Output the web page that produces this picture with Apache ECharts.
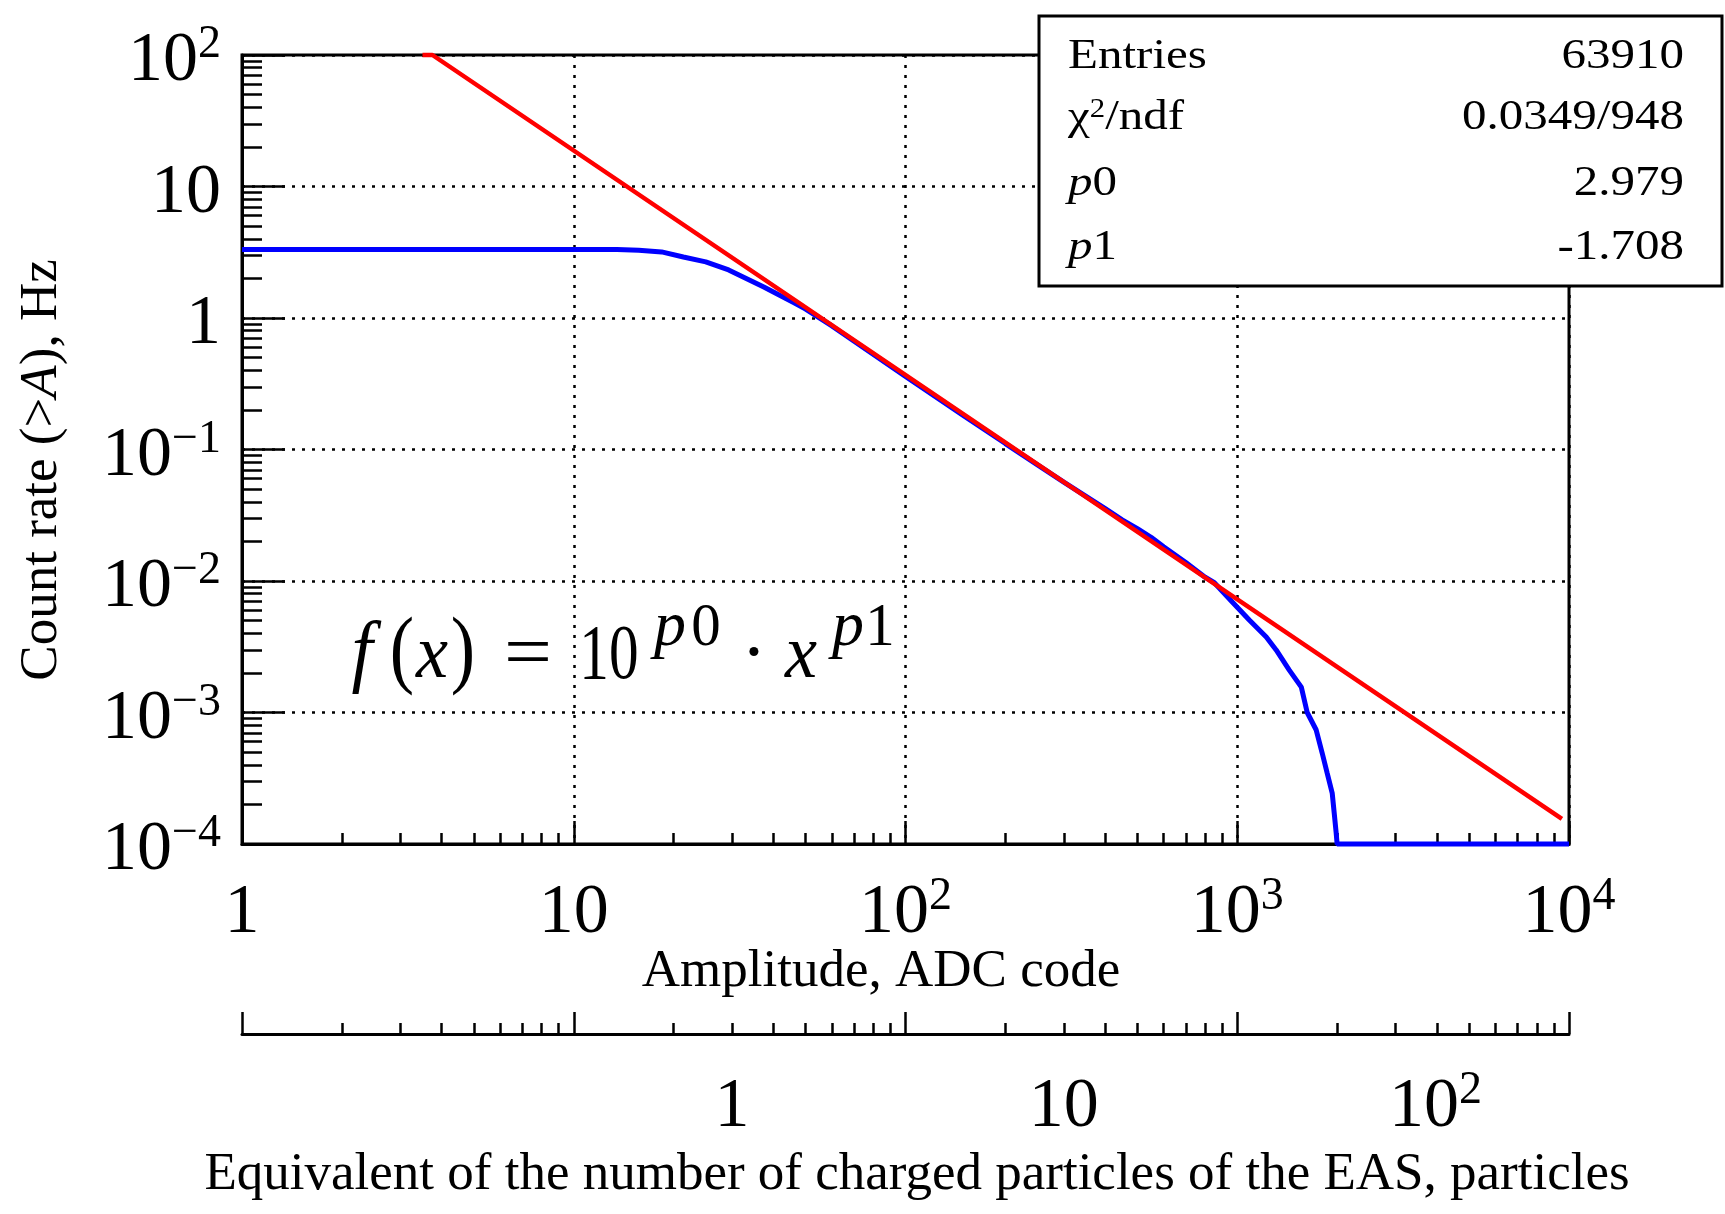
<!DOCTYPE html>
<html>
<head>
<meta charset="utf-8">
<script src="https://cdn.jsdelivr.net/npm/echarts@6/dist/echarts.min.js"></script>
<style>html,body{margin:0;padding:0;background:#fff}#c{width:1725px;height:1214px}</style>
</head>
<body>
<div id="c"></div>
<script>
// ---------- data ----------
const amplitude = [1, 13.5, 15.7, 18.4, 21.4, 25, 29.3, 37.4, 46.3, 50, 60, 70, 100, 150, 200, 250, 300, 400, 450, 500, 550, 600, 700, 800, 853, 966, 1087, 1223, 1310, 1435, 1560, 1625, 1730, 1803, 1866, 1933, 1960, 1987, 2000, 10000];
const countRate = [3.32, 3.32, 3.28, 3.18, 2.91, 2.67, 2.32, 1.72, 1.30, 1.17, 0.87, 0.665, 0.36, 0.18, 0.111, 0.0765, 0.0565, 0.0355, 0.0292, 0.025, 0.0215, 0.0182, 0.0138, 0.0107, 0.0097, 0.00692, 0.00505, 0.00375, 0.00299, 0.0021, 0.00156, 0.0010, 0.000736, 0.000492, 0.000347, 0.000244, 0.000172, 0.000121, 0.0001, 0.0001];
const fitAmplitude = [3.5, 3.75, 9520];
const fitRate = [100, 100, 1.55e-4];
const xMajorTicks = [1, 10, 100, 1000, 10000];
const yMajorTicks = [1e-4, 1e-3, 1e-2, 1e-1, 1, 10, 100];
const particleTicks = [1, 10, 100];
const adcPerParticle = 30;
const statsLabels = ['{r|Entries}', '{g|\u03c7}{s|2}{r|/ndf}', '{i|p}{r|0}', '{i|p}{r|1}'];
const statsValues = ['63910', '0.0349/948', '2.979', '-1.708'];
const xTitle = 'Amplitude, ADC code';
const x2Title = 'Equivalent of the number of charged particles of the EAS, particles';

// minor tick positions (2..9 in each decade)
function minorTicks(lo, hi) {
  const out = [];
  for (let d = lo; d < hi; d++) for (let m = 2; m <= 9; m++) out.push(+(m * Math.pow(10, d)).toPrecision(6));
  return out;
}
const xMinorTicks = minorTicks(0, 4);
const yMinorTicks = minorTicks(-4, 2);

const FONT = '"Liberation Serif","Times New Roman",Times,serif';

function powLabel(v, big) {
  const e = Math.round(Math.log10(v));
  if (e === 0) return '{b|1}';
  if (e === 1) return '{b|10}';
  const exp = e < 0 ? '\u2212' + (-e) : String(e);
  return '{' + (big ? 'bp' : 'b') + '|10}{s|' + exp + '}';
}

const richX = {
  b: {fontFamily: FONT, fontSize: 70, lineHeight: 80, color: '#000'},
  bp: {fontFamily: FONT, fontSize: 70, lineHeight: 80, color: '#000', padding: [0, 0, 0, 80]},
  s: {fontFamily: FONT, fontSize: 46, lineHeight: 33, verticalAlign: 'top', color: '#000'}
};
const richY = {
  b: {fontFamily: FONT, fontSize: 70, lineHeight: 80, color: '#000'},
  s: {fontFamily: FONT, fontSize: 46, lineHeight: 35, verticalAlign: 'top', color: '#000'}
};

const dotted = {show: true, lineStyle: {color: '#000', width: 2.5, type: [3, 7]}};
const noSplit = {show: false};
const tickStyle = {color: '#000', width: 2.5};

const chart = echarts.init(document.getElementById('c'), null, {renderer: 'canvas'});

const option = {
  animation: false,
  backgroundColor: '#fff',
  grid: [
    {left: 242, top: 55, width: 1327, height: 789, show: true, borderColor: '#000', borderWidth: 3,
     backgroundColor: 'transparent', containLabel: false, outerBoundsMode: 'none'},
    {left: 242, top: 1000, width: 1327, height: 34, show: false, containLabel: false, outerBoundsMode: 'none'}
  ],
  xAxis: [
    {type: 'log', gridIndex: 0, position: 'bottom', min: 1, max: 10000,
     axisLine: {show: true, lineStyle: {color: '#000', width: 3}},
     axisTick: {show: true, inside: true, length: 23, lineStyle: tickStyle},
     axisLabel: {show: true, margin: 30, customValues: xMajorTicks, formatter: v => powLabel(v), rich: richX,
                 showMinLabel: true, showMaxLabel: true, hideOverlap: false},
     splitLine: dotted, minorTick: {show: false}, minorSplitLine: {show: false}},
    {type: 'log', gridIndex: 0, position: 'bottom', min: 1, max: 10000,
     axisLine: {show: false},
     axisTick: {show: true, inside: true, length: 11, customValues: xMinorTicks, lineStyle: tickStyle},
     axisLabel: {show: false}, splitLine: noSplit},
    {type: 'log', gridIndex: 1, position: 'bottom', min: 1, max: 10000,
     axisLine: {show: true, lineStyle: {color: '#000', width: 3}},
     axisTick: {show: true, inside: true, length: 22, lineStyle: tickStyle},
     axisLabel: {show: false}, splitLine: noSplit},
    {type: 'log', gridIndex: 1, position: 'bottom', min: 1, max: 10000,
     axisLine: {show: false},
     axisTick: {show: true, inside: true, length: 11, customValues: xMinorTicks, lineStyle: tickStyle},
     axisLabel: {show: false}, splitLine: noSplit},
    {type: 'log', gridIndex: 1, position: 'bottom', min: 1 / adcPerParticle, max: 10000 / adcPerParticle,
     axisLine: {show: false}, axisTick: {show: false},
     axisLabel: {show: true, margin: 34, customValues: particleTicks, formatter: v => powLabel(v, Math.round(Math.log10(v)) === 2),
                 rich: richX, showMinLabel: true, showMaxLabel: true, hideOverlap: false},
     splitLine: noSplit}
  ],
  yAxis: [
    {type: 'log', gridIndex: 0, position: 'left', min: 1e-4, max: 100,
     axisLine: {show: true, lineStyle: {color: '#000', width: 3}},
     axisTick: {show: true, inside: true, length: 43, lineStyle: tickStyle},
     axisLabel: {show: true, margin: 21, customValues: yMajorTicks, formatter: v => powLabel(v), rich: richY,
                 padding: [14, 0, 0, 0], showMinLabel: true, showMaxLabel: true, hideOverlap: false},
     splitLine: dotted, minorTick: {show: false}, minorSplitLine: {show: false}},
    {type: 'log', gridIndex: 0, position: 'left', min: 1e-4, max: 100,
     axisLine: {show: false},
     axisTick: {show: true, inside: true, length: 20, customValues: yMinorTicks, lineStyle: tickStyle},
     axisLabel: {show: false}, splitLine: noSplit},
    {type: 'value', gridIndex: 1, show: false, min: 0, max: 1}
  ],
  series: [
    {type: 'line', name: 'data', xAxisIndex: 0, yAxisIndex: 0, clip: false,
     data: amplitude.map((a, i) => [a, countRate[i]]),
     symbol: 'none', showSymbol: false, z: 3,
     lineStyle: {color: '#0000ff', width: 5}},
    {type: 'line', name: 'fit', xAxisIndex: 0, yAxisIndex: 0, clip: false,
     data: fitAmplitude.map((a, i) => [a, fitRate[i]]),
     symbol: 'none', showSymbol: false, z: 4,
     lineStyle: {color: '#ff0000', width: 4.5}}
  ],
  graphic: []
};

const g = option.graphic;
// axis titles
g.push({type: 'text', x: 881, y: 972, z: 20, style: {text: xTitle, font: '53px ' + FONT, fill: '#000', align: 'center', verticalAlign: 'middle'}});
g.push({type: 'text', x: 917, y: 1175, z: 20, style: {text: x2Title, font: '53px ' + FONT, fill: '#000', align: 'center', verticalAlign: 'middle'}});
g.push({type: 'text', x: 42, y: 470, rotation: Math.PI / 2, z: 20,
        style: {text: '{r|Count rate (>}{i|A}{r|), Hz}', fill: '#000', align: 'center', verticalAlign: 'middle',
                rich: {r: {fontFamily: FONT, fontSize: 53, fill: '#000'}, i: {fontFamily: FONT, fontSize: 53, fontStyle: 'italic', fill: '#000'}}}});

// formula f(x) = 10^{p0} . x^{p1}  (baseline of the main line at y = 683, superscripts at 650)
function fpiece(text, cx, baseline, size, italic, sx) {
  g.push({type: 'text', x: cx, y: baseline - 0.3375 * size, scaleX: sx, z: 20,
          style: {text: text, align: 'center', verticalAlign: 'middle', fill: '#000',
                  font: (italic ? 'italic ' : '') + size + 'px ' + FONT}});
}
fpiece('f', 362, 683, 80, true, 0.95);
fpiece('(', 402, 683, 86, false, 0.85);
fpiece('x', 432, 683, 76, true, 0.95);
fpiece(')', 463, 683, 86, false, 0.85);
fpiece('=', 528, 683, 76, false, 1.12);
fpiece('10', 609, 684, 78, false, 0.76);
fpiece('p', 670, 650, 64, true, 1.0);
fpiece('0', 706, 650, 62, false, 0.95);
fpiece('\u00b7', 754, 683, 76, false, 1.0);
fpiece('x', 801, 683, 76, true, 0.95);
fpiece('p', 848, 650, 64, true, 1.0);
fpiece('1', 880, 650, 62, false, 0.95);

// statistics box
g.push({type: 'rect', z: 30, shape: {x: 1039, y: 16, width: 683, height: 270},
        style: {fill: '#fff', stroke: '#000', lineWidth: 3}});
const rowY = [57, 118, 184, 248];
const bR = {fontFamily: FONT, fontSize: 43, fill: '#000'};
const bI = {fontFamily: FONT, fontSize: 43, fontStyle: 'italic', fill: '#000'};
const bS = {fontFamily: FONT, fontSize: 27, fill: '#000', verticalAlign: 'top', lineHeight: 22};
statsLabels.forEach((lab, i) => {
  g.push({type: 'text', x: 1068, y: rowY[i], scaleX: 1.14, z: 31,
          style: {text: lab, align: 'left', verticalAlign: 'middle', rich: {r: bR, i: bI, g: bR, s: bS}}});
  g.push({type: 'text', x: 1684, y: rowY[i], scaleX: 1.14, z: 31,
          style: {text: statsValues[i], font: '43px ' + FONT, fill: '#000', align: 'right', verticalAlign: 'middle'}});
});

chart.setOption(option);
</script>
</body>
</html>
